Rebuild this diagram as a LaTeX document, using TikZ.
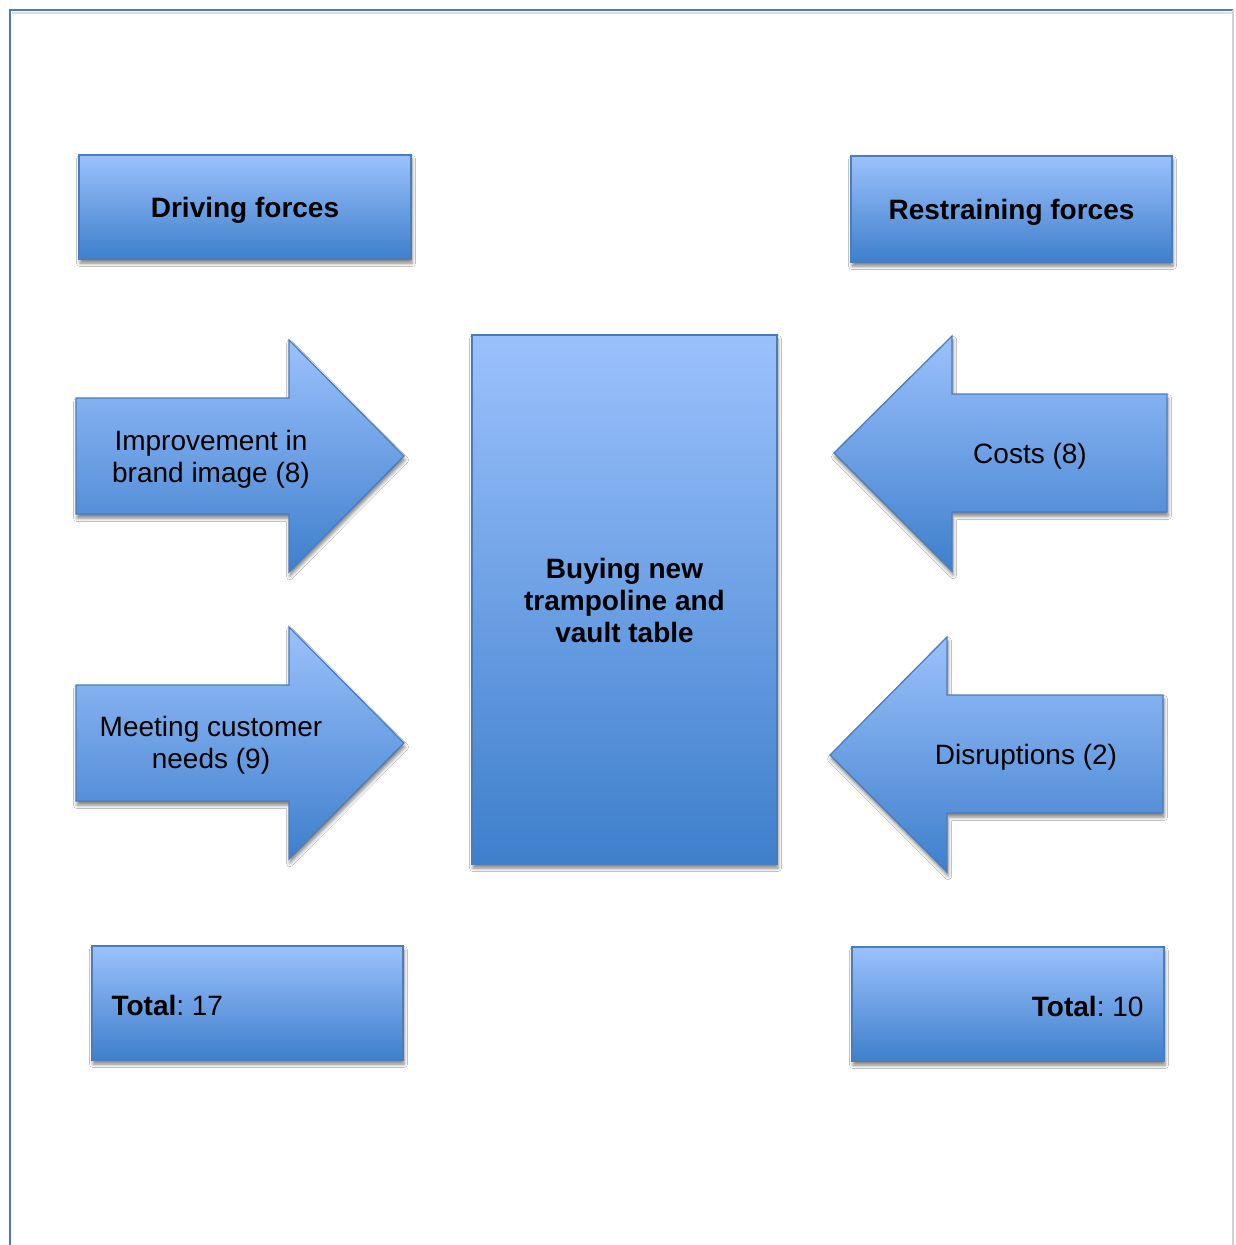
\documentclass[tikz,border=0pt]{standalone}
\usepackage{fontspec}
\setmainfont{Liberation Sans}
\usetikzlibrary{shadows.blur}
\definecolor{topc}{RGB}{155,193,252}
\definecolor{midc}{RGB}{122,166,233}
\definecolor{botc}{RGB}{62,127,204}
\definecolor{edgec}{RGB}{74,126,187}
\frenchspacing
\begin{document}
\begin{tikzpicture}[x=1pt,y=-1pt,
  blueshape/.style={draw=edgec, line width=1.3pt, top color=topc, middle color=midc, bottom color=botc,
    blur shadow={shadow xshift=1pt, shadow yshift=-4pt, shadow blur radius=3.5pt, shadow opacity=50}},
  lbl/.style={font=\fontsize{28}{32}\selectfont, align=center, text=black, inner sep=0pt},
  boxnode/.style={blueshape, inner sep=0pt}]
\useasboundingbox (0,0) rectangle (1235,1245);
\fill[white] (0,0) rectangle (1235,1245);
% frame
\draw[black!12, line width=2.5pt] (12,13) -- (1233,13);
\draw[edgec, line width=1.5pt] (10,1245) -- (10,10) -- (1233,10);
\draw[black!18, line width=2pt] (1233,10) -- (1233,1245);

% header boxes
\node[boxnode, minimum width=332pt, minimum height=104pt] (drv) at (245,207) {};
\node[lbl, font=\fontsize{28}{32}\selectfont\bfseries] (drvt) at ([yshift=-3pt]drv.center) {Driving forces};
\node[boxnode, minimum width=321pt, minimum height=106pt] (rst) at (1011.5,209) {};
\node[lbl, font=\fontsize{28}{32}\selectfont\bfseries] (rstt) at ([yshift=-3pt]rst.center) {Restraining forces};

% central box
\node[boxnode, minimum width=305pt, minimum height=529pt] (ctr) at (624.5,599.5) {};
\node[lbl, font=\fontsize{28}{32}\selectfont\bfseries] (ctrt) at ([yshift=-1pt]ctr.center)
  {Buying new\\trampoline and\\vault table};

% driving arrows
\path[blueshape] (76,398) -- (289,398) -- (289,340) -- (404,456) -- (289,572) -- (289,514) -- (76,514) -- cycle;
\node[lbl] (a1) at (211,459.5) {Improvement in\\brand image (8)};
\path[blueshape] (76,685) -- (289,685) -- (289,627) -- (404,743) -- (289,859) -- (289,801) -- (76,801) -- cycle;
\node[lbl] (a2) at (211,745.5) {Meeting customer\\needs (9)};

% restraining arrows
\path[blueshape] (834,453) -- (952,336) -- (952,394) -- (1167,394) -- (1167,512) -- (952,512) -- (952,571) -- cycle;
\node[lbl] (a3) at (1030,456) {Costs (8)};
\path[blueshape] (830,755) -- (947,637) -- (947,695) -- (1163,695) -- (1163,813) -- (947,813) -- (947,872) -- cycle;
\node[lbl] (a4) at (1026,757) {Disruptions (2)};

% totals
\node[boxnode, minimum width=311pt, minimum height=114pt] (t17) at (247.5,1003) {};
\node[lbl, anchor=west] (t17t) at ([xshift=20pt,yshift=-2pt]t17.west) {\textbf{Total}: 17};
\node[boxnode, minimum width=312pt, minimum height=114pt] (t10) at (1008,1004) {};
\node[lbl, anchor=east] (t10t) at ([xshift=-21pt,yshift=-2pt]t10.east) {\textbf{Total}: 10};
\end{tikzpicture}
\end{document}
